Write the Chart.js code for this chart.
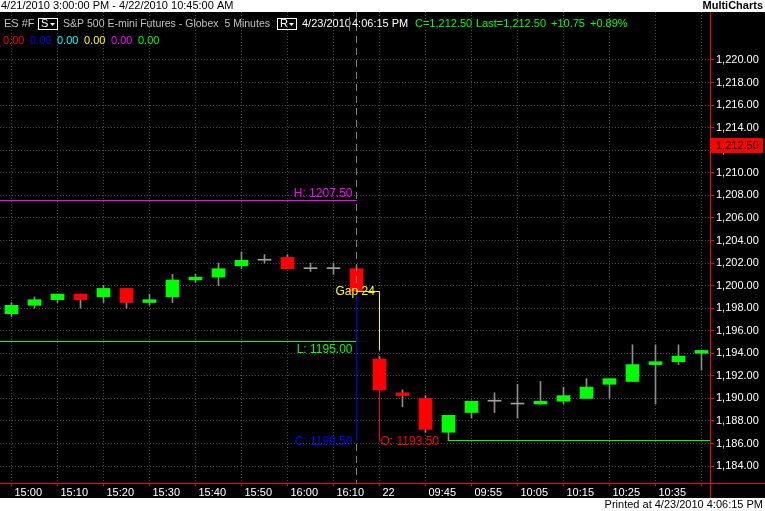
<!DOCTYPE html>
<html>
<head>
<meta charset="utf-8">
<script src="https://cdn.jsdelivr.net/npm/chart.js@4.4.0/dist/chart.umd.min.js"></script>
<style>
  html, body { margin: 0; padding: 0; background: #fff; }
  canvas { display: block; }
</style>
</head>
<body>
<canvas id="es-chart" width="765" height="511"></canvas>
<script>
'use strict';

/* Section 1: Data */

// 5 minute bars, 4/21 15:00 - 16:15 then 4/22 09:35 - 10:45
const barTimes = ['15:00', '15:05', '15:10', '15:15', '15:20', '15:25', '15:30', '15:35',
    '15:40', '15:45', '15:50', '15:55', '16:00', '16:05', '16:10', '16:15',
    '09:35', '09:40', '09:45', '09:50', '09:55', '10:00', '10:05', '10:10',
    '10:15', '10:20', '10:25', '10:30', '10:35', '10:40', '10:45'];

const opens = [1197.50, 1198.25, 1198.75, 1199.25, 1199.00, 1199.75, 1198.50, 1199.00,
    1200.50, 1200.75, 1201.75, 1202.25, 1202.50, 1201.50, 1201.50, 1201.50,
    1193.50, 1190.50, 1190.00, 1187.00, 1188.75, 1189.75, 1189.50, 1189.50,
    1189.75, 1190.00, 1191.25, 1191.50, 1193.00, 1193.25, 1194.00];
const highs = [1198.50, 1199.00, 1199.25, 1199.25, 1200.00, 1199.75, 1199.25, 1201.00,
    1201.00, 1202.00, 1203.00, 1202.75, 1202.75, 1202.00, 1202.00, 1201.75,
    1193.75, 1190.75, 1190.25, 1188.50, 1189.75, 1190.50, 1191.25, 1191.50,
    1191.00, 1191.75, 1191.75, 1194.75, 1194.75, 1194.75, 1194.25];
const lows = [1197.25, 1198.00, 1198.50, 1198.00, 1198.50, 1198.00, 1198.25, 1198.50,
    1200.25, 1200.00, 1201.50, 1202.00, 1201.50, 1201.25, 1201.00, 1199.50,
    1190.75, 1189.25, 1187.00, 1186.25, 1188.25, 1188.75, 1188.25, 1189.50,
    1189.50, 1190.00, 1190.00, 1191.50, 1189.50, 1193.00, 1192.50];
const closes = [1198.25, 1198.75, 1199.25, 1198.75, 1199.75, 1198.50, 1198.75, 1200.50,
    1200.75, 1201.50, 1202.25, 1202.25, 1201.50, 1201.50, 1201.50, 1199.50,
    1190.75, 1190.25, 1187.25, 1188.50, 1189.75, 1189.75, 1189.50, 1189.75,
    1190.25, 1191.00, 1191.75, 1193.00, 1193.25, 1193.75, 1194.25];

// time axis ticks (every 2nd bar) and their labels
const xTickIndex = [0, 2, 4, 6, 8, 10, 12, 14, 16, 18, 20, 22, 24, 26, 28, 30];
const xTickLabels = ['15:00', '15:10', '15:20', '15:30', '15:40', '15:50', '16:00', '16:10',
    '22', '09:45', '09:55', '10:05', '10:15', '10:25', '10:35', ''];

const priceTicks = [1184, 1186, 1188, 1190, 1192, 1194, 1196, 1198, 1200, 1202,
    1204, 1206, 1208, 1210, 1212, 1214, 1216, 1218, 1220];

// gap study values
const prevHigh = 1207.50;
const prevLow = 1195.00;
const prevClose = 1199.50;
const todayOpen = 1193.50;
const todayLow = 1186.25;
const gapTop = 1194.25;
const lastPrice = 1212.50;
const breakBar = 15;   // last bar of 4/21
const firstBar = 16;   // first bar of 4/22
const lowBar = 19;

const plotColors = ['#ff0000', '#0000ff', '#00ffff', '#ffff00', '#ff00ff', '#00ff00'];


/* Section 2: Chart */

const baseFont = '11px "Liberation Sans", Arial, sans-serif';
const labelFont = '12px "Liberation Sans", Arial, sans-serif';

const bodyData = barTimes.map((t, i) => ({x: i, y: [opens[i], closes[i]]}));
const wickData = barTimes.map((t, i) => ({x: i, y: [lows[i], highs[i]]}));
const bodyColors = barTimes.map((t, i) => {
    if (closes[i] > opens[i]) return '#00ff00';
    if (closes[i] < opens[i]) return '#ff0000';
    return '#a0a0a0';
});

function putText(ctx, str, x, y, color, align, font, maxWidth) {
    ctx.font = font || baseFont;
    ctx.fillStyle = color;
    ctx.textAlign = align || 'left';
    ctx.textBaseline = 'middle';
    if (maxWidth) ctx.fillText(str, x, y, maxWidth);
    else ctx.fillText(str, x, y);
}

function line(ctx, x1, y1, x2, y2, color, dash) {
    ctx.beginPath();
    ctx.strokeStyle = color;
    ctx.lineWidth = 1;
    ctx.setLineDash(dash || []);
    ctx.moveTo(x1, y1);
    ctx.lineTo(x2, y2);
    ctx.stroke();
    ctx.setLineDash([]);
}

const crisp = v => Math.floor(v) + 0.5;

function dropBox(ctx, letter, x, y) {
    ctx.strokeStyle = '#ffffff';
    ctx.lineWidth = 1;
    ctx.strokeRect(x + 0.5, y + 0.5, 19, 11);
    putText(ctx, letter, x + 3, y + 6, '#ffffff');
    ctx.beginPath();
    ctx.fillStyle = '#ffffff';
    ctx.moveTo(x + 12, y + 5);
    ctx.lineTo(x + 17, y + 5);
    ctx.lineTo(x + 14.5, y + 8);
    ctx.closePath();
    ctx.fill();
}

const chartPlugin = {
    id: 'multicharts',
    beforeDraw(chart) {
        const ctx = chart.ctx;
        ctx.save();
        ctx.fillStyle = '#ffffff';
        ctx.fillRect(0, 0, chart.width, chart.height);
        ctx.fillStyle = '#000000';
        ctx.fillRect(0, chart.chartArea.top, chart.width, chart.scales.x.bottom - chart.chartArea.top);
        ctx.restore();
    },
    afterDatasetsDraw(chart) {
        const ctx = chart.ctx;
        const area = chart.chartArea;
        const px = i => chart.scales.x.getPixelForValue(i);
        const py = v => chart.scales.y.getPixelForValue(v);
        ctx.save();

        // session break
        line(ctx, crisp(px(breakBar)), area.top, crisp(px(breakBar)), area.bottom, '#808080', [7, 5]);

        // yesterday high / low
        line(ctx, area.left, crisp(py(prevHigh)), crisp(px(breakBar)), crisp(py(prevHigh)), '#ff00ff');
        line(ctx, area.left, crisp(py(prevLow)), crisp(px(breakBar)), crisp(py(prevLow)), '#00ff00');

        // close (blue) and open (red) verticals
        line(ctx, crisp(px(breakBar)), py(prevClose), crisp(px(breakBar)), py(todayLow), '#0000ff');
        line(ctx, crisp(px(firstBar)), py(closes[firstBar]), crisp(px(firstBar)), py(todayLow), '#ff0000');

        // gap bracket
        line(ctx, px(breakBar), crisp(py(prevClose)), crisp(px(firstBar)), crisp(py(prevClose)), '#ffff00');
        line(ctx, crisp(px(firstBar)), crisp(py(prevClose)), crisp(px(firstBar)), py(gapTop), '#ffff00');

        // today's low
        line(ctx, px(lowBar), crisp(py(todayLow)), area.right, crisp(py(todayLow)), '#00ff00');

        const lx = px(breakBar) - 4;
        putText(ctx, `H: ${prevHigh.toFixed(2)}`, lx, py(prevHigh) - 7, '#ff00ff', 'right', labelFont);
        putText(ctx, `L: ${prevLow.toFixed(2)}`, lx, py(prevLow) + 8, '#00ff00', 'right', labelFont);
        putText(ctx, `C: ${prevClose.toFixed(2)}`, lx, py(todayLow) + 1, '#0000ff', 'right', labelFont);
        putText(ctx, `O: ${todayOpen.toFixed(2)}`, px(firstBar) + 1, py(todayLow) + 1, '#ff0000', 'left', labelFont);
        const gapTicks = Math.round((prevClose - todayOpen) * 4);
        putText(ctx, `Gap ${gapTicks}`, px(breakBar) - 21, py(prevClose), '#ffff00', 'left', labelFont);

        ctx.restore();
    },
    afterDraw(chart) {
        const ctx = chart.ctx;
        const area = chart.chartArea;
        const py = v => chart.scales.y.getPixelForValue(v);
        const bottom = chart.scales.x.bottom;
        ctx.save();

        // axis frame lines
        line(ctx, area.right + 0.5, area.top, area.right + 0.5, bottom, '#ff0000');
        line(ctx, 0, area.bottom + 0.5, chart.width, area.bottom + 0.5, '#ff0000');

        // last price marker
        const ly = py(lastPrice);
        ctx.fillStyle = '#ff0000';
        ctx.fillRect(area.right, Math.round(ly) - 7, 53, 15);
        putText(ctx, lastPrice.toLocaleString('en-US', {minimumFractionDigits: 2}), area.right + 6, ly + 1, '#000000');

        // top strip
        putText(ctx, '4/21/2010 3:00:00 PM - 4/22/2010 10:45:00 AM', 1, 6, '#000000');
        putText(ctx, 'MultiCharts', 763, 6, '#000000', 'right', 'bold 11px "Liberation Sans", Arial, sans-serif');

        // header line 1
        const hy = 24;
        putText(ctx, 'ES #F', 4, hy, '#c0c0c0');
        dropBox(ctx, 'S', 38, 18);
        putText(ctx, 'S&P 500 E-mini Futures - Globex  5 Minutes', 63, hy, '#c0c0c0', 'left', baseFont, 207);
        dropBox(ctx, 'R', 277, 18);
        putText(ctx, '4/23/2010', 302, hy, '#ffffff');
        line(ctx, 349.5, 17, 349.5, 31, '#808080');
        putText(ctx, '4:06:15 PM', 352, hy, '#ffffff');
        putText(ctx, 'C=1,212.50', 415, hy, '#00ff00');
        putText(ctx, 'Last=1,212.50', 476, hy, '#00ff00');
        putText(ctx, '+10.75', 551, hy, '#00ff00');
        putText(ctx, '+0.89%', 590, hy, '#00ff00');

        // header line 2: plot values
        plotColors.forEach((c, i) => putText(ctx, '0.00', 3 + i * 27, 41, c));

        // bottom strip
        putText(ctx, 'Printed at 4/23/2010 4:06:15 PM', 763, 505, '#000000', 'right');

        ctx.restore();
    }
};

const esChart = new Chart(document.querySelector('#es-chart'), {
    type: 'bar',
    data: {
        datasets: [
            {
                label: 'wick',
                data: wickData,
                backgroundColor: '#8c8c8c',
                barThickness: 1,
                grouped: false,
                order: 2
            },
            {
                label: 'body',
                data: bodyData,
                backgroundColor: bodyColors,
                barThickness: 13,
                minBarLength: 1,
                grouped: false,
                order: 1
            }
        ]
    },
    options: {
        responsive: false,
        animation: false,
        devicePixelRatio: 1,
        layout: {
            padding: {top: 12, bottom: 13, left: 0, right: 0}
        },
        plugins: {
            legend: {display: false},
            tooltip: {enabled: false}
        },
        scales: {
            x: {
                type: 'linear',
                offset: false,
                min: -0.5,
                max: 30.37,
                afterFit: scale => {
                    scale.height = 15;
                    scale.paddingLeft = 0;
                    scale.paddingRight = 0;
                },
                afterBuildTicks: scale => {
                    scale.ticks = xTickIndex.map(v => ({value: v}));
                },
                grid: {
                    offset: false,
                    color: '#4a4a4a',
                    tickColor: '#ff0000',
                    tickLength: 3,
                    tickBorderDash: []
                },
                border: {display: false, dash: [1, 2]},
                ticks: {
                    color: '#ffffff',
                    font: {family: '"Liberation Sans", Arial, sans-serif', size: 11},
                    align: 'start',
                    labelOffset: 3,
                    padding: 0,
                    autoSkip: false,
                    maxRotation: 0,
                    callback: value => xTickLabels[xTickIndex.indexOf(value)] || ''
                }
            },
            y: {
                type: 'linear',
                position: 'right',
                min: 1182.5,
                max: 1224.255,
                afterFit: scale => {
                    scale.width = 55;
                    scale.paddingTop = 0;
                    scale.paddingBottom = 0;
                },
                afterBuildTicks: scale => {
                    scale.ticks = priceTicks.map(v => ({value: v}));
                },
                grid: {
                    color: '#4a4a4a',
                    tickColor: '#ff0000',
                    tickLength: 4,
                    tickBorderDash: []
                },
                border: {display: false, dash: [1, 2]},
                ticks: {
                    color: '#ffffff',
                    font: {family: '"Liberation Sans", Arial, sans-serif', size: 11},
                    padding: 2,
                    callback: value => value.toLocaleString('en-US', {minimumFractionDigits: 2})
                }
            }
        }
    },
    plugins: [chartPlugin]
});
</script>
</body>
</html>
